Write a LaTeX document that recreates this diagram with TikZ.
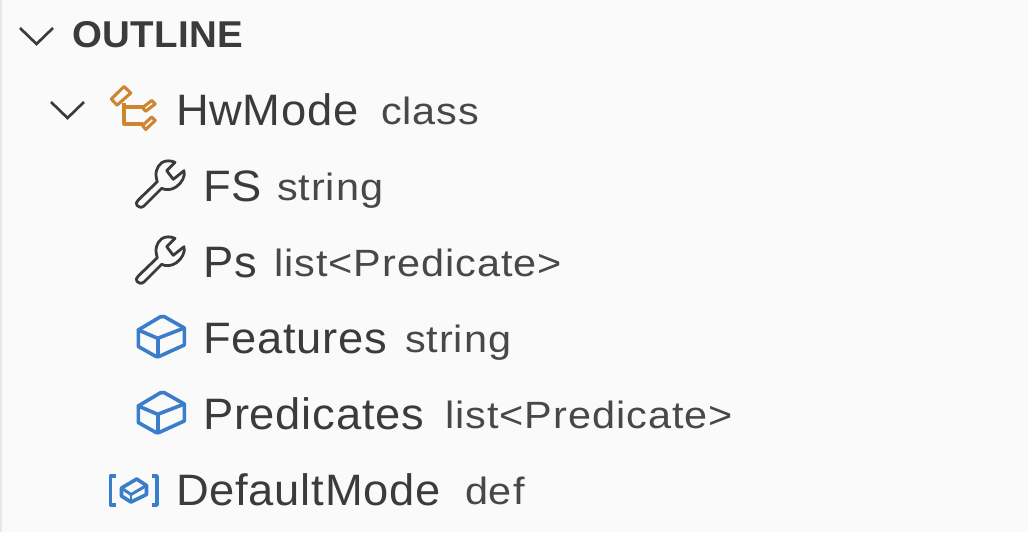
\documentclass[tikz,border=0pt]{standalone}
\usepackage{fontspec}
\setmainfont{Liberation Sans}
\definecolor{bgc}{HTML}{FAFAFA}
\definecolor{stripc}{HTML}{E8E8E8}
\definecolor{txtc}{HTML}{3B3B3B}
\definecolor{descc}{HTML}{484848}
\definecolor{orangec}{HTML}{CE8530}
\definecolor{bluec}{HTML}{3A7DCB}
\newfontfamily\lblfont[FakeStretch=1.03,LetterSpace=1.8]{Liberation Sans}
\newfontfamily\descfont[FakeStretch=1.09,LetterSpace=2.6]{Liberation Sans}
\newfontfamily\headfont[FakeStretch=1.03,LetterSpace=1.1]{Liberation Sans Bold}
\tikzset{
  x=0.75pt,y=-0.75pt,
  lbl/.style={anchor=base west,inner sep=0pt,outer sep=0pt,text=txtc,font=\lblfont\fontsize{33}{36}\selectfont},
  desc/.style={anchor=base west,inner sep=0pt,outer sep=0pt,text=descc,font=\descfont\fontsize{28.5}{30}\selectfont},
  head/.style={anchor=base west,inner sep=0pt,outer sep=0pt,text=txtc,font=\headfont\fontsize{28}{30}\selectfont},
  chev/.style={draw=txtc,line width=2pt,line join=miter},
  wrenchline/.style={draw=txtc,line width=2.1pt,line join=round,line cap=round},
  classline/.style={draw=orangec,line width=2.3pt,line join=round},
  boxline/.style={draw=bluec,line width=2.7pt,line join=round,line cap=round},
  pics/wrench/.style={code={
    \draw[wrenchline] (138.3,200) -- (157.3,181.7)
      .. controls (154.5,173) and (156.5,167) .. (161.7,162.7)
      .. controls (165.5,160.3) and (170.5,160.3) .. (175,162.3)
      -- (166.7,170.7) -- (173.3,179.3) -- (184,170.7)
      .. controls (185.5,176) and (182,183) .. (176,187)
      .. controls (171.5,190) and (166,190.5) .. (161.7,188.3)
      -- (144,206)
      .. controls (141.5,208) and (138.5,207.5) .. (137,205.5)
      .. controls (135.8,203.8) and (136.2,201.8) .. (138.3,200) -- cycle;
  }},
  pics/cube/.style={code={
    \draw[boxline] (164,316.5) -- (184.3,328) -- (184.3,345) -- (159,356.5)
      .. controls (158,357) and (157,357) .. (156,356.5)
      -- (138.3,346.5) -- (138.3,330) -- (160,317) .. controls (161.5,316.2) and (162.5,316) .. (164,316.5) -- cycle;
    \draw[boxline] (138.3,330) -- (157.7,338.3) -- (184.3,328);
    \draw[boxline] (157.7,338.3) -- (157.7,356.5);
  }}
}
\begin{document}
\begin{tikzpicture}
\useasboundingbox (0,0) rectangle (1028,532);
\fill[bgc] (0,0) rectangle (1028,532);
\fill[stripc] (0,0) rectangle (2,532);
% chevrons
\draw[chev] (20,28) -- (36.5,44) -- (53,28);
\draw[chev] (51,102) -- (67.5,118) -- (84,102);
% class icon
\draw[classline] (124,86.5) -- (130.8,93) -- (117,105.2) -- (111.3,99) -- cycle;
\draw[classline] (151.7,100.5) -- (155.2,104) -- (145.7,111.2) -- (142.5,107.7) -- cycle;
\draw[classline] (151.7,117) -- (155.2,120.5) -- (145.7,129.5) -- (142.5,125.5) -- cycle;
\draw[classline] (124,103) -- (124,124) -- (143,124);
\draw[classline] (124,107) -- (143,107);
% wrench icons
\pic {wrench};
\begin{scope}[yshift=-57pt]\pic {wrench};\end{scope}
% cube icons
\pic {cube};
\begin{scope}[yshift=-57pt]\pic {cube};\end{scope}
% def icon
\draw[boxline,line cap=butt] (116,476) -- (110.5,476) -- (110.5,505) -- (116,505);
\draw[boxline,line cap=butt] (151.5,476) -- (157,476) -- (157,505) -- (151.5,505);
\draw[boxline] (136.7,479) -- (146.5,485.5) -- (146.5,494.5) -- (131,502) -- (121.5,496) -- (121.5,488) -- cycle;
\draw[boxline,line width=2.2pt] (121.5,488) -- (131,494.5) -- (146.5,485.5);
\draw[boxline,line width=2.2pt] (131,494.5) -- (131,502);
% text
\node[head] (outline) at (72,47) {OUTLINE};
\node[lbl] (hw) at (176,125) {HwMode};
\node[desc] (hwd) at (381,124) {class};
\node[lbl] (fs) at (203,201) {FS};
\node[desc] (fsd) at (277,200) {string};
\node[lbl] (ps) at (203,277) {Ps};
\node[desc] (psd) at (274,276) {list<Predicate>};
\node[lbl] (fe) at (203,353) {Features};
\node[desc] (fed) at (405,352) {string};
\node[lbl] (pr) at (203,429) {Predicates};
\node[desc] (prd) at (445,428) {list<Predicate>};
\node[lbl] (dm) at (176,505) {DefaultMode};
\node[desc] (dmd) at (465,504) {def};
\end{tikzpicture}
\end{document}
